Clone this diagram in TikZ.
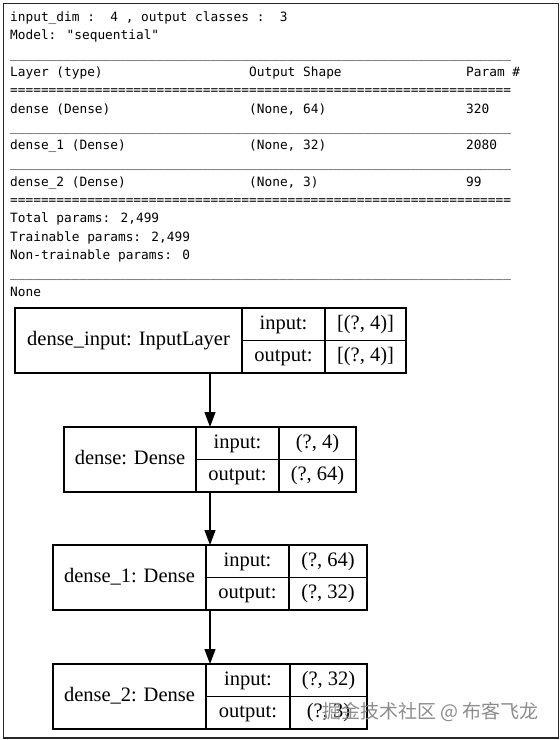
\documentclass[tikz,border=0pt]{standalone}
\usepackage{fontspec}
\usepackage{tikz}
\usetikzlibrary{positioning, arrows.meta}

\newfontfamily\summaryfont{DejaVu Sans Mono}
\newfontfamily\graphfont{Liberation Serif}
\newfontfamily\cjkfont{Noto Sans CJK SC}

% 65-character separator rows of the printed summary
\newcommand{\ufive}{\_\_\_\_\_}
\newcommand{\underrow}{\ufive\ufive\ufive\ufive\ufive\ufive\ufive\ufive\ufive\ufive\ufive\ufive\ufive}
\newcommand{\eqfive}{=====}
\newcommand{\eqrow}{\eqfive\eqfive\eqfive\eqfive\eqfive\eqfive\eqfive\eqfive\eqfive\eqfive\eqfive\eqfive\eqfive}

\begin{document}
\begin{tikzpicture}[
    x=1pt, y=-1pt,
    >=stealth,
    summary/.style={
        anchor=base west,
        inner sep=0pt,
        text=black,
        font=\summaryfont\fontsize{12.8}{15}\selectfont
    },
    cell/.style={
        rectangle,
        draw=black,
        line width=1.2pt,
        inner sep=0pt,
        outer sep=0pt,
        anchor=north west,
        text height=14pt,
        text depth=4.5pt,
        font=\graphfont\fontsize{20.5}{24}\selectfont
    },
    namecell/.style={cell, minimum width=#1, minimum height=65pt},
    portcell/.style={cell, minimum width=#1, minimum height=32.5pt},
    arr/.style={
        line width=1.2pt,
        -{Triangle[length=15pt,width=11pt]}
    },
    watermark/.style={
        anchor=west,
        inner sep=0pt,
        text=black!45,
        font=\cjkfont\fontsize{19}{22}\selectfont
    }
]
\useasboundingbox (0,0) rectangle (560,740);

% --- outer frame ---
\node[draw=black!85, line width=1.5pt, inner sep=0pt, anchor=north west,
      minimum width=555pt, minimum height=734.5pt] (panel) at (2.5,2.5) {};

% --- printed model summary ---
\node[summary] (title) at (10,21.5) {input\_dim :\ \ 4 , output classes :\ \ 3};
\node[summary] (modelname) at (10,39.8) {Model: "sequential"};
\node[summary] (sepa) at (10,58.1) {\underrow};
\node[summary] (hlayer) at (10,76.4) {Layer (type)};
\node[summary] (hshape) at (249,76.4) {Output Shape};
\node[summary] (hparam) at (466,76.4) {Param \#};
\node[summary] (sepb) at (10,94.7) {\eqrow};
\node[summary] (rowa) at (10,113.0) {dense (Dense)};
\node[summary] (rowashape) at (249,113.0) {(None, 64)};
\node[summary] (rowaparam) at (466,113.0) {320};
\node[summary] (sepc) at (10,131.3) {\underrow};
\node[summary] (rowb) at (10,149.6) {dense\_1 (Dense)};
\node[summary] (rowbshape) at (249,149.6) {(None, 32)};
\node[summary] (rowbparam) at (466,149.6) {2080};
\node[summary] (sepd) at (10,167.9) {\underrow};
\node[summary] (rowc) at (10,186.2) {dense\_2 (Dense)};
\node[summary] (rowcshape) at (249,186.2) {(None, 3)};
\node[summary] (rowcparam) at (466,186.2) {99};
\node[summary] (sepe) at (10,204.5) {\eqrow};
\node[summary] (total) at (10,222.8) {Total params: 2,499};
\node[summary] (trainable) at (10,241.1) {Trainable params: 2,499};
\node[summary] (frozen) at (10,259.4) {Non-trainable params: 0};
\node[summary] (sepf) at (10,277.7) {\underrow};
\node[summary] (none) at (10,296.0) {None};

% --- layer graph ---
\node[namecell=227pt] (dinput) at (15,308) {dense\_input: InputLayer};
\node[portcell=83pt] (dinput_in) at (dinput.north east) {input:};
\node[portcell=83pt] (dinput_out) at (dinput_in.south west) {output:};
\node[portcell=81pt] (dinput_inv) at (dinput_in.north east) {[(?, 4)]};
\node[portcell=81pt] (dinput_outv) at (dinput_out.north east) {[(?, 4)]};

\node[namecell=132pt] (dense) at (64,427) {dense: Dense};
\node[portcell=83pt] (dense_in) at (dense.north east) {input:};
\node[portcell=83pt] (dense_out) at (dense_in.south west) {output:};
\node[portcell=77pt] (dense_inv) at (dense_in.north east) {(?, 4)};
\node[portcell=77pt] (dense_outv) at (dense_out.north east) {(?, 64)};

\node[namecell=153pt] (denseb) at (53,545) {dense\_1: Dense};
\node[portcell=83pt] (denseb_in) at (denseb.north east) {input:};
\node[portcell=83pt] (denseb_out) at (denseb_in.south west) {output:};
\node[portcell=78pt] (denseb_inv) at (denseb_in.north east) {(?, 64)};
\node[portcell=78pt] (denseb_outv) at (denseb_out.north east) {(?, 32)};

\node[namecell=153pt] (densec) at (53,664) {dense\_2: Dense};
\node[portcell=84pt] (densec_in) at (densec.north east) {input:};
\node[portcell=84pt] (densec_out) at (densec_in.south west) {output:};
\node[portcell=77pt] (densec_inv) at (densec_in.north east) {(?, 32)};
\node[portcell=77pt] (densec_outv) at (densec_out.north east) {(?, 3)};

% --- edges ---
\coordinate (flow) at (210,0);
\draw[arr] (dinput.south -| flow) -- (dense_in.north -| flow);
\draw[arr] (dense.south -| flow) -- (denseb.north -| flow);
\draw[arr] (denseb.south -| flow) -- (densec.north -| flow);

% --- watermark ---
\node[watermark] (mark) at (322,712) {掘金技术社区 @ 布客飞龙};

\end{tikzpicture}
\end{document}
